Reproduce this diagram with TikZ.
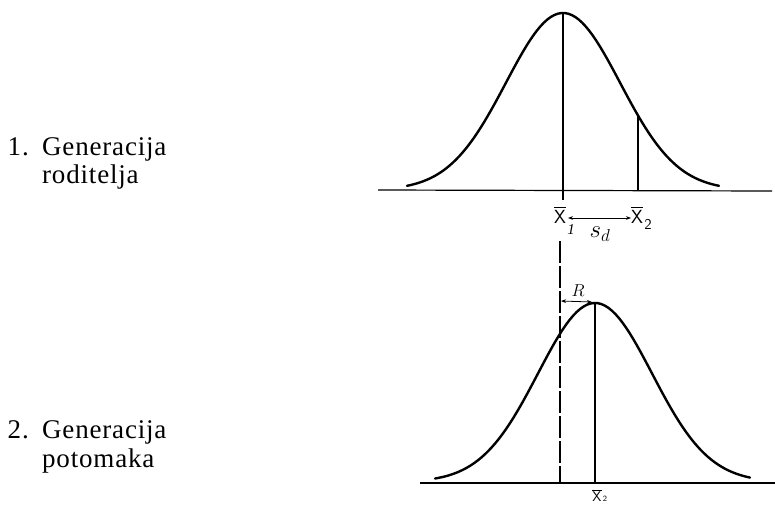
\documentclass[tikz,border=0pt]{standalone}
\usepackage{fontspec}
\setmainfont{Liberation Serif}
\usepackage{tikz}
\usetikzlibrary{arrows.meta, positioning}

\begin{document}
\begin{tikzpicture}[x=1pt, y=-1pt,
    gen/.style={inner sep=0pt, font=\fontsize{27}{29}\selectfont\addfontfeature{LetterSpace=3}},
    lbl/.style={inner sep=0pt, font=\sffamily\fontsize{19}{20}\selectfont},
    sub/.style={inner sep=0pt, font=\fontsize{15}{16}\selectfont},
    barline/.style={line width=0.7pt},
    curve/.style={line width=2.4pt, line cap=round},
    axis/.style={line width=1.2pt},
    meanline/.style={line width=1.8pt},
    dashline/.style={line width=1.8pt, dash pattern=on 22pt off 3pt},
    arr/.style={{Stealth[length=5pt]}-{Stealth[length=5pt]}, line width=0.8pt}
]
\useasboundingbox (0,0) rectangle (775,506);

% left texts
\node[gen, anchor=base west] (g1a) at (42,155) {Generacija};
\node[gen, anchor=base west] (g1b) at (42,183) {roditelja};
\node[gen, anchor=base east] (g1n) at (29,155) {1.};
\node[gen, anchor=base west] (g2a) at (42,438) {Generacija};
\node[gen, anchor=base west] (g2b) at (42,467) {potomaka};
\node[gen, anchor=base east] (g2n) at (29,438) {2.};

% parents
\coordinate (base1l) at (378,190);
\coordinate (base1r) at (772,191);
\draw[axis] (base1l) -- (base1r);
\draw[curve] plot[domain=-156:156, samples=90] ({563+\x},{190-177*exp(-0.5*(\x/57)^2)});
\coordinate (top1) at (563,13);
\coordinate (foot1) at (563,200);
\draw[meanline] (top1) -- (foot1);
\coordinate (cut1) at (638,116);
\coordinate (cut1b) at (638,190);
\draw[meanline] (cut1) -- (cut1b);

\node[lbl] (x1) at (560,217) {X};
\draw[barline] ([yshift=2.5pt]x1.north west) -- ([yshift=2.5pt]x1.north east);
\node[sub, right=1pt of x1.south east, anchor=north west, yshift=-1pt] (x1s) {\textit{1}};
\node[lbl] (x2) at (637,217) {X};
\draw[barline] ([yshift=2.5pt]x2.north west) -- ([yshift=2.5pt]x2.north east);
\node[sub, right=1pt of x2.south east, anchor=north west, yshift=5pt] (x2s) {\textsf{2}};
\coordinate (sdl) at (568,218);
\coordinate (sdr) at (631,218);
\draw[arr] (sdl) -- (sdr);
\node[lbl, font=\fontsize{24}{24}\selectfont] (sd) at (600,234) {$s_d$};

% offspring
\coordinate (base2l) at (420,483);
\coordinate (base2r) at (775,483);
\draw[axis] (base2l) -- (base2r);
\draw[curve] plot[domain=-160:155, samples=90] ({595+\x},{482-179*exp(-0.5*(\x/57)^2)});
\coordinate (top2) at (595,303);
\coordinate (foot2) at (595,483);
\draw[meanline] (top2) -- (foot2);
\coordinate (dtop) at (560,241);
\coordinate (dfoot) at (560,483);
\draw[dashline] (dtop) -- (dfoot);
\coordinate (rl) at (561,301);
\coordinate (rr) at (592,302);
\draw[arr] (rl) -- (rr);
\node[lbl, font=\fontsize{16}{16}\selectfont] (rlab) at (578,291) {$R$};
\node[lbl, font=\sffamily\fontsize{14}{15}\selectfont] (x3) at (597,497) {X};
\draw[barline] ([yshift=2pt]x3.north west) -- ([yshift=2pt]x3.north east);
\node[sub, font=\sffamily\fontsize{8}{9}\selectfont, right=1pt of x3.south east, anchor=south west] (x3s) {2};
\end{tikzpicture}
\end{document}
